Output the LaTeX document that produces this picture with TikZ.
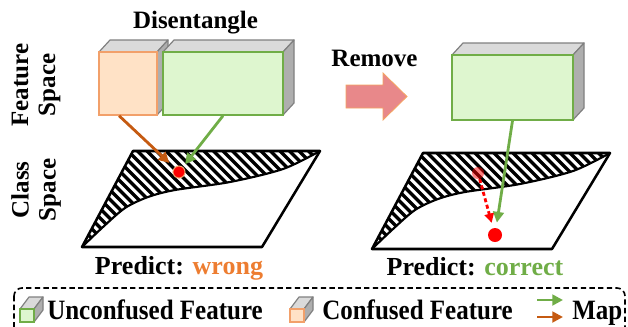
\documentclass[tikz,border=0pt]{standalone}
\usepackage{fontspec}
\setmainfont{Liberation Serif}
\usetikzlibrary{arrows.meta,calc}
\definecolor{grayTop}{HTML}{DADADA}
\definecolor{graySide}{HTML}{AEAEAE}
\definecolor{grayBorder}{HTML}{808080}
\definecolor{peachFill}{HTML}{FFE2C6}
\definecolor{peachBorder}{HTML}{F2A06A}
\definecolor{lgFill}{HTML}{DEF6CF}
\definecolor{lgBorder}{HTML}{70AD47}
\definecolor{mapOrange}{HTML}{C55A11}
\definecolor{mapGreen}{HTML}{70AD47}
\definecolor{txtOrange}{HTML}{ED7D31}
\definecolor{removeFill}{HTML}{E8888A}
\definecolor{removeBorder}{HTML}{F4A460}
\newcommand\cubeback[6]{%
  \filldraw[fill=grayTop,draw=grayBorder,line width=0.9pt,line join=round]
    (#1,#2) -- ++(#5,#6) -- ({#3+#5},{#2+#6}) -- (#3,#2) -- cycle;
  \filldraw[fill=graySide,draw=grayBorder,line width=0.9pt,line join=round]
    (#3,#2) -- ({#3+#5},{#2+#6}) -- ({#3+#5},{#4+#6}) -- (#3,#4) -- cycle;
}
\newcommand\classplane{%
  \fill[white] (82,247) -- (133,151) -- (320,151) -- (262,247) -- cycle;
  \begin{scope}
    \clip plot[smooth] coordinates {(320,151) (283,169) (230,182) (175,190) (148,197) (125,208) (103,227) (82,247)} -- (133,151) -- cycle;
    \foreach \k in {0,...,40} \draw[line width=2.5pt] ({-35+\k*9.5},140) -- ++(120,120);
  \end{scope}
  \draw[line width=1.6pt] plot[smooth] coordinates {(320,151) (283,169) (230,182) (175,190) (148,197) (125,208) (103,227) (82,247)};
  \draw[line width=1.9pt,line join=round] (82,247) -- (133,151) -- (320,151) -- (262,247) -- cycle;
}
\begin{document}
\begin{tikzpicture}[x=0.75pt,y=-0.75pt,
  lbl/.style={font=\fontsize{18.75}{20.25}\selectfont\bfseries, inner sep=0pt},
  pred/.style={font=\fontsize{19.5}{21}\selectfont\bfseries, inner sep=0pt, anchor=base},
  legtxt/.style={font=\fontsize{18.75}{20}\selectfont\bfseries, inner sep=0pt, anchor=base west},
  frontface/.style={draw, line width=1.1pt, inner sep=0pt},
  maparrow/.style={line width=2.1pt, -{Triangle[length=8pt,width=8pt]}},
  reddot/.style={circle, fill=red, inner sep=0pt},
]
\useasboundingbox (0,0) rectangle (628,326);

% titles
\node[lbl, anchor=base] (tDis) at (195.5,28) {Disentangle};
\node[lbl, anchor=base] (tRem) at (374.5,66) {Remove};
\node[lbl, rotate=90, align=center] (tFS) at (36,85) {Feature\\Space};
\node[lbl, rotate=90, align=center] (tCS) at (36,190) {Class\\Space};

% left cubes
\cubeback{99}{52}{157}{115}{11}{-12}
\node[frontface, fill=peachFill, draw=peachBorder, minimum width=43.5pt, minimum height=47.25pt] (orangeF) at (128,83.5) {};
\cubeback{163}{52}{283}{115}{11}{-12}
\node[frontface, fill=lgFill, draw=lgBorder, minimum width=90pt, minimum height=47.25pt] (greenF) at (223,83.5) {};

% remove arrow
\filldraw[fill=removeFill, draw=removeBorder, line width=0.6pt, line join=miter]
  (346,85) -- (383,85) -- (383,73) -- (407,96.5) -- (383,120) -- (383,108) -- (346,108) -- cycle;

% right cube
\cubeback{452}{55}{573}{120}{11}{-12}
\node[frontface, fill=lgFill, draw=lgBorder, minimum width=90.75pt, minimum height=48.75pt] (greenR) at (512.5,87.5) {};

% class planes
\classplane
\begin{scope}[shift={(290,2)}]
\classplane
\end{scope}

% left mapping
\node[reddot, draw=peachBorder, line width=0.8pt, minimum size=9pt] (dotL) at (179,172) {};
\coordinate (oStart) at ($(orangeF.south west)!0.35!(orangeF.south east)$);
\draw[maparrow, mapOrange, shorten >=5pt] (oStart) -- (dotL);
\draw[maparrow, mapGreen, shorten >=2.5pt] (greenF.south) -- (dotL);

% right mapping
\node[reddot, opacity=0.5, minimum size=9pt] (dotR0) at (478,173) {};
\node[reddot, minimum size=10.5pt] (dotR) at (495,235) {};
\draw[red, line width=2.1pt, dash pattern=on 3pt off 2pt, -{Triangle[length=7pt,width=7pt]}, shorten >=4pt] (dotR0) -- (dotR);
\draw[maparrow, mapGreen, shorten >=4pt] (greenR.south) -- (dotR);

% predictions
\node[pred] (pW) at (179,274) {Predict: \textcolor{txtOrange}{wrong}};
\node[pred] (pC) at (475,275) {Predict: \textcolor{mapGreen}{correct}};

% legend
\draw[line width=1.2pt, dash pattern=on 4pt off 2.5pt, rounded corners=6pt] (14,288) rectangle (625,345);
\cubeback{20}{309}{34}{322}{9}{-12}
\node[frontface, fill=lgFill, draw=lgBorder, line width=0.9pt, minimum width=10.5pt, minimum height=9.75pt] (legG) at (27,315.5) {};
\node[legtxt] (lU) at (47,319) {\scalebox{1}[1.12]{Unconfused Feature}};
\cubeback{290}{309}{304}{322}{9}{-12}
\node[frontface, fill=peachFill, draw=peachBorder, line width=0.9pt, minimum width=10.5pt, minimum height=9.75pt] (legO) at (297,315.5) {};
\node[legtxt] (lC) at (322,319) {\scalebox{1}[1.12]{Confused Feature}};
\coordinate (mg1) at (537,300); \coordinate (mg2) at (563,300);
\coordinate (mo1) at (537,317); \coordinate (mo2) at (563,317);
\draw[maparrow, mapGreen] (mg1) -- (mg2);
\draw[maparrow, mapOrange] (mo1) -- (mo2);
\node[legtxt] (lM) at (572,319) {\scalebox{1}[1.12]{Map}};
\end{tikzpicture}
\end{document}
